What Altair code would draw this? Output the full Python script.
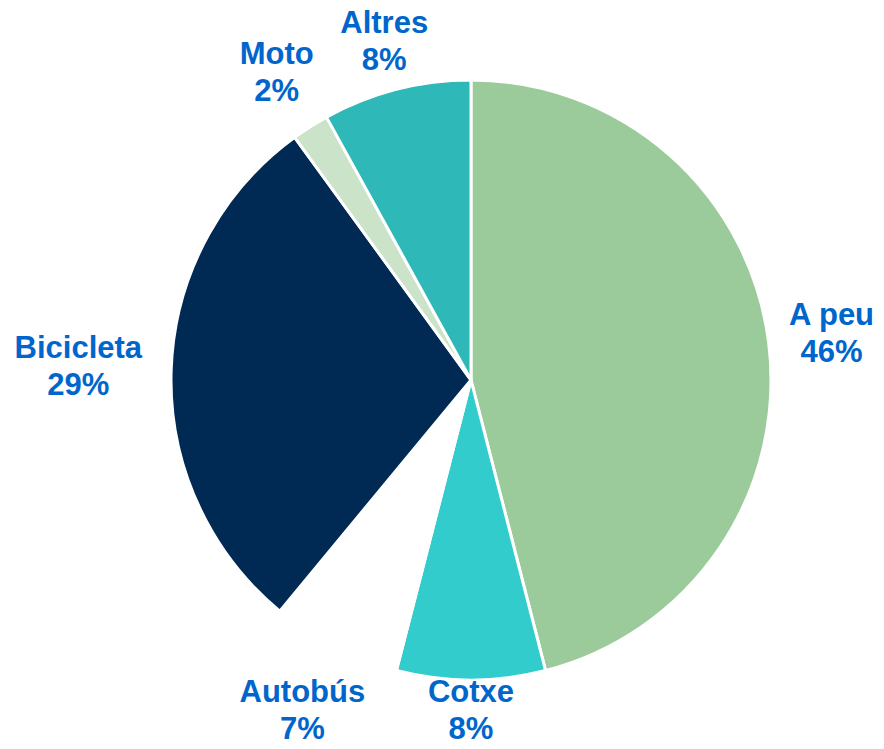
import math
import altair as alt
import pandas as pd

categories = ["A peu", "Cotxe", "Autobús", "Bicicleta", "Moto", "Altres"]
values = [46, 8, 7, 29, 2, 8]
colors = ["#9BCB9A", "#33CCCC", "#FFFFFF", "#002A54", "#CAE3C9", "#2EB8B8"]

W, H = 868, 733
CX, CY = 463, 372
R = 300
FONT_PX = 31
LINE_H = 37
HALF_H = 30
GAP = 20
Y_MIN, Y_MAX = 34, 703

total = sum(values)
rows = []
cum = 0.0
for i, (c, v) in enumerate(zip(categories, values)):
    mid = (cum + v / 2) / total * 2 * math.pi
    cum += v
    half_w = 8 * len(c)
    lr = R + GAP + half_w * abs(math.sin(mid)) + HALF_H * abs(math.cos(mid))
    # keep label block inside the chart area
    yc = CY - lr * math.cos(mid)
    if yc > Y_MAX and math.cos(mid) < 0:
        lr = (Y_MAX - CY) / -math.cos(mid)
    if yc < Y_MIN and math.cos(mid) > 0:
        lr = (CY - Y_MIN) / math.cos(mid)
    rows.append({"cat": c, "val": v, "idx": i, "label": f"{c}\n{v}%", "lr": lr, "mid": mid})
df = pd.DataFrame(rows)

pie = alt.Chart(df).mark_arc(radius=R, stroke="white", strokeWidth=3).encode(
    theta=alt.Theta("val:Q", stack=True),
    order=alt.Order("idx:Q"),
    x=alt.value(CX),
    y=alt.value(CY),
    color=alt.Color("cat:N", scale=alt.Scale(domain=categories, range=colors), legend=None),
)

labels = alt.Chart(df).mark_text(
    font="Liberation Sans",
    fontWeight="bold",
    fontSize=FONT_PX,
    lineBreak="\n",
    lineHeight=LINE_H,
    align="center",
    baseline="middle",
    dy=-LINE_H / 2,
    color="#0066CC",
).encode(
    x=alt.value(CX),
    y=alt.value(CY),
    theta=alt.Theta("mid:Q", scale=None),
    radius=alt.Radius("lr:Q", scale=None),
    text="label:N",
)

chart = (
    alt.layer(pie, labels)
    .resolve_scale(theta="independent")
    .properties(width=W, height=H, autosize=alt.AutoSizeParams(type="none"), padding=0)
    .configure_view(stroke=None)
)

chart.save("out.html", embed_options={"renderer": "svg", "actions": False})
